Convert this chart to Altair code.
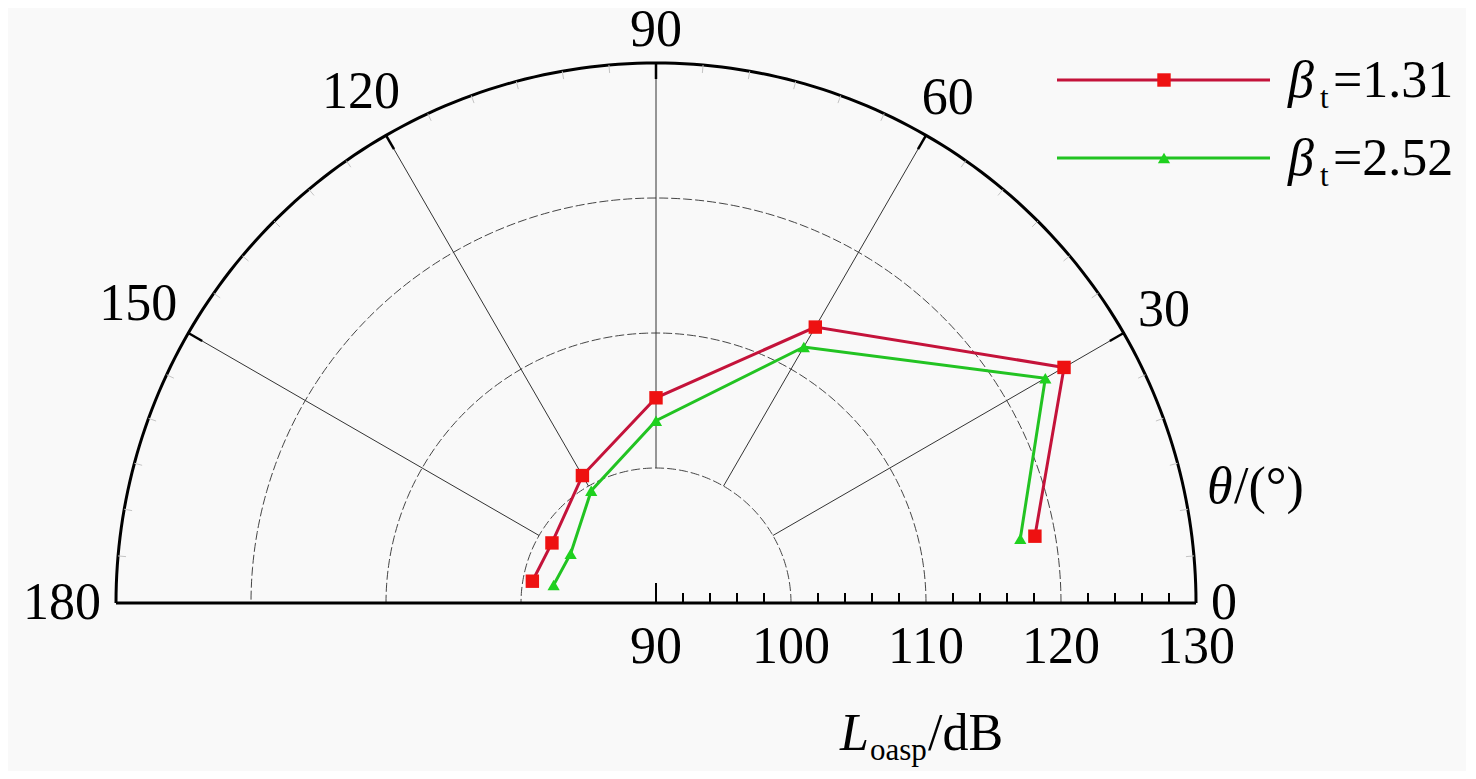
import altair as alt
import pandas as pd
import numpy as np

# ---------------- data ----------------
THETA = [10, 30, 60, 90, 120, 150, 170]                      # deg
L_131 = [118.5, 124.9, 113.6, 105.2, 100.9, 98.9, 99.3]      # dB, beta_t = 1.31
L_252 = [117.4, 123.3, 111.9, 103.5, 99.6, 97.3, 97.7]       # dB, beta_t = 2.52
SERIES = ["1.31", "2.52"]
ANGLE_TICKS = [0, 30, 60, 90, 120, 150, 180]
RADIAL_TICKS = [90, 100, 110, 120, 130]
GRID_LEVELS = [100, 110, 120]
R_MIN, R_MAX = 90, 130

# ---------------- geometry / style ----------------
SPAN = R_MAX - R_MIN
PX = 540.0
U = PX / SPAN            # px per dB
W, H = 2 * PX, PX
FONT = "Liberation Serif"
FS = 52
RAD = "PI/180"

xs = alt.Scale(domain=[-SPAN, SPAN], nice=False, zero=False)
ys = alt.Scale(domain=[0, SPAN], nice=False, zero=False)


def XQ(f):
    return alt.X(f, type="quantitative", scale=xs, axis=None)


def YQ(f):
    return alt.Y(f, type="quantitative", scale=ys, axis=None)


def polar(r, t, xn="x", yn="y"):
    return {xn: f"({r})*cos(({t})*{RAD})", yn: f"({r})*sin(({t})*{RAD})"}


layers = []

# grid circles (dashed)
arc_angles = list(range(0, 181, 1))
grid_df = pd.DataFrame([(lv, a) for lv in GRID_LEVELS for a in arc_angles], columns=["level", "angle"])
layers.append(
    alt.Chart(grid_df)
    .transform_calculate(**polar(f"datum.level-{R_MIN}", "datum.angle"))
    .mark_line(stroke="#444444", strokeWidth=1, strokeDash=[9, 3])
    .encode(x=XQ("x"), y=YQ("y"), detail="level:N", order="angle:Q")
)

# spokes
spoke_df = pd.DataFrame({"theta": ANGLE_TICKS[1:-1]})
sp = {}
sp.update(polar(f"{GRID_LEVELS[0]-R_MIN}", "datum.theta", "x", "y"))
sp.update(polar(f"{SPAN}", "datum.theta", "x2", "y2"))
layers.append(
    alt.Chart(spoke_df)
    .transform_calculate(**sp)
    .mark_rule(stroke="#333333", strokeWidth=1)
    .encode(x=XQ("x"), y=YQ("y"), x2="x2:Q", y2="y2:Q")
)

# outer circle
outer_df = pd.DataFrame({"level": [R_MAX] * len(arc_angles), "angle": arc_angles})
layers.append(
    alt.Chart(outer_df)
    .transform_calculate(**polar(f"datum.level-{R_MIN}", "datum.angle"))
    .mark_line(stroke="black", strokeWidth=3)
    .encode(x=XQ("x"), y=YQ("y"), order="angle:Q")
)

# baseline
base_df = pd.DataFrame({"L": [R_MAX]})
layers.append(
    alt.Chart(base_df)
    .transform_calculate(x=f"-(datum.L-{R_MIN})", x2=f"datum.L-{R_MIN}", y="0")
    .mark_rule(stroke="black", strokeWidth=3)
    .encode(x=XQ("x"), x2="x2:Q", y=YQ("y"))
)

# baseline ticks (right half)
minor_vals = [v for v in range(R_MIN + 2, R_MAX, 2) if v % 10 != 0]
layers.append(
    alt.Chart(pd.DataFrame({"L": minor_vals}))
    .transform_calculate(x=f"datum.L-{R_MIN}", y="0", y2=f"{10 / U}")
    .mark_rule(stroke="black", strokeWidth=2)
    .encode(x=XQ("x"), y=YQ("y"), y2="y2:Q")
)
layers.append(
    alt.Chart(pd.DataFrame({"L": [R_MIN]}))
    .transform_calculate(x=f"datum.L-{R_MIN}", y="0", y2=f"{20 / U}")
    .mark_rule(stroke="black", strokeWidth=2)
    .encode(x=XQ("x"), y=YQ("y"), y2="y2:Q")
)

# angular ticks on the outer circle
def ang_ticks(vals, length, color, width):
    d = {}
    d.update(polar(f"{SPAN}", "datum.theta", "x", "y"))
    d.update(polar(f"{SPAN - length / U}", "datum.theta", "x2", "y2"))
    return (
        alt.Chart(pd.DataFrame({"theta": vals}))
        .transform_calculate(**d)
        .mark_rule(stroke=color, strokeWidth=width)
        .encode(x=XQ("x"), y=YQ("y"), x2="x2:Q", y2="y2:Q")
    )


layers.append(ang_ticks([a for a in range(5, 180, 5) if a % 30 != 0], 8, "#c4c4c4", 1))
layers.append(ang_ticks(ANGLE_TICKS[1:-1], 16, "black", 2.5))

# angle labels
ang_lab = pd.DataFrame({"theta": ANGLE_TICKS, "label": [str(a) for a in ANGLE_TICKS]})
rexpr = (f"{SPAN} + (15 + length(datum.label)*13*abs(cos(datum.theta*{RAD})) "
         f"+ 18*abs(sin(datum.theta*{RAD})))/{U}")
layers.append(
    alt.Chart(ang_lab)
    .transform_calculate(r=rexpr)
    .transform_calculate(**polar("datum.r", "datum.theta"))
    .mark_text(font=FONT, fontSize=FS, color="black", align="center", baseline="middle")
    .encode(x=XQ("x"), y=YQ("y"), text="label:N")
)

# radial labels on the baseline
layers.append(
    alt.Chart(pd.DataFrame({"L": RADIAL_TICKS}))
    .transform_calculate(x=f"datum.L-{R_MIN}", y="0")
    .mark_text(font=FONT, fontSize=FS, color="black", align="center", baseline="alphabetic", dy=60)
    .encode(x=XQ("x"), y=YQ("y"), text="L:N")
)

# data series
series_style = [
    ("2.52", L_252, "#22c322", "#1fd11f", "triangle-up", 150),
    ("1.31", L_131, "#c4133a", "#ee1111", "square", 180),
]
for name, vals, lc, mc, shape, size in series_style:
    sdf = pd.DataFrame({"theta": THETA, "L": vals, "series": name})
    base = alt.Chart(sdf).transform_calculate(**polar(f"datum.L-{R_MIN}", "datum.theta"))
    layers.append(
        base.mark_line(color=lc, strokeWidth=3).encode(x=XQ("x"), y=YQ("y"), order="theta:Q")
    )
    layers.append(
        base.mark_point(shape=shape, filled=True, color=mc, size=size, opacity=1)
        .encode(x=XQ("x"), y=YQ("y"))
    )

# legend (manual)
legend_rows = [("1.31", "#c4133a", "#ee1111", "square", 180, 17),
               ("2.52", "#22c322", "#1fd11f", "triangle-up", 150, 95)]
for name, lc, mc, shape, size, yy in legend_rows:
    one = pd.DataFrame({"series": [name], "eq": ["=" + name], "b": ["β"], "t": ["t"]})
    lg = alt.Chart(one)
    layers.append(lg.mark_rule(color=lc, strokeWidth=3).encode(
        x=alt.value(941), x2=alt.value(1154), y=alt.value(yy)))
    layers.append(lg.mark_point(shape=shape, filled=True, color=mc, size=size, opacity=1).encode(
        x=alt.value(1048), y=alt.value(yy)))
    layers.append(lg.mark_text(font=FONT, fontSize=FS, fontStyle="italic", align="left",
                               baseline="alphabetic", color="black").encode(
        x=alt.value(1172), y=alt.value(yy + 17), text="b:N"))
    layers.append(lg.mark_text(font=FONT, fontSize=31, align="left",
                               baseline="alphabetic", color="black").encode(
        x=alt.value(1204), y=alt.value(yy + 28), text="t:N"))
    layers.append(lg.mark_text(font=FONT, fontSize=FS, align="left",
                               baseline="alphabetic", color="black").encode(
        x=alt.value(1217), y=alt.value(yy + 17), text="eq:N"))

# axis titles
def label(txt, x, y, size=FS, style="normal"):
    return (alt.Chart(pd.DataFrame({"s": [txt]}))
            .mark_text(font=FONT, fontSize=size, fontStyle=style, align="left",
                       baseline="alphabetic", color="black")
            .encode(x=alt.value(x), y=alt.value(y), text="s:N"))


layers.append(label("θ", 1091, 440, style="italic"))
layers.append(label("/(°)", 1118, 440))
layers.append(label("L", 724, 687, style="italic"))
layers.append(label("oasp", 754, 697, size=31))
layers.append(label("/dB", 812, 687))

chart = (
    alt.layer(*layers)
    .properties(
        width=W,
        height=H,
        autosize=alt.AutoSizeParams(type="none"),
        padding={"left": 108, "top": 55, "right": 270, "bottom": 168},
        background="#f9f9f9",
    )
    .configure_view(strokeWidth=0)
)

chart.save("out.html", embed_options={"renderer": "svg", "actions": False})
